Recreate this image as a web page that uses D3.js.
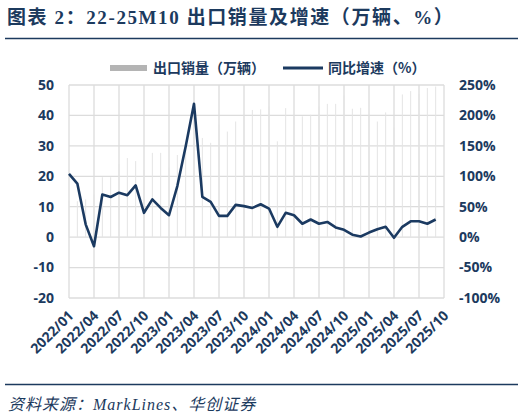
<!DOCTYPE html>
<html>
<head>
<meta charset="utf-8">
<script src="https://cdn.jsdelivr.net/npm/d3@7"></script>
<style>
body { margin: 0; background: #fff; }
svg { display: block; }
text { fill: #1c3a5e; }
</style>
</head>
<body>
<svg id="chart"></svg>
<script>
var months = ["2022/01","2022/02","2022/03","2022/04","2022/05","2022/06","2022/07","2022/08","2022/09","2022/10","2022/11","2022/12",
    "2023/01","2023/02","2023/03","2023/04","2023/05","2023/06","2023/07","2023/08","2023/09","2023/10","2023/11","2023/12",
    "2024/01","2024/02","2024/03","2024/04","2024/05","2024/06","2024/07","2024/08","2024/09","2024/10","2024/11","2024/12",
    "2025/01","2025/02","2025/03","2025/04","2025/05","2025/06","2025/07","2025/08","2025/09","2025/10"];
// export volume, 万辆
var exportVol = [12, 11.8, 12.4, 14, 19.7, 19.7, 24, 26, 25, 22, 27.7, 27.7,
    23, 27, 30, 33, 32.6, 31, 37, 34.7, 38, 40, 41.8, 42,
    43, 31.5, 42.4, 40, 39.7, 40.2, 43, 43.8, 43.8, 46.5, 42.2, 42.5,
    40, 38, 41, 36, 46.9, 48, 47, 49, 49.5];
// yoy growth, %
var yoyGrowth = [104, 88, 21, -15, 70, 66, 73, 69, 85, 40, 62, 48,
    36, 84, 149, 219, 66, 58, 35, 35, 53, 51, 48, 54,
    47, 17, 40, 36, 22, 29, 22, 25, 16, 12, 4, 1,
    7.5, 13, 17, -1, 17, 26, 26, 22, 29];
var leftTicks = [-20, -10, 0, 10, 20, 30, 40, 50];
var rightTicks = [-100, -50, 0, 50, 100, 150, 200, 250];

var W = 524, H = 418;
var plot = {left: 69, right: 444, top: 85, bottom: 298};
var navy = "#1c3a5e", grid = "#dcdcdc";

var svg = d3.select("#chart").attr("width", W).attr("height", H);

var xScale = d3.scalePoint().domain(months).range([plot.left, plot.right]);
var yLeft = d3.scaleLinear().domain([-20, 50]).range([plot.bottom, plot.top]);
var yRight = d3.scaleLinear().domain([-100, 250]).range([plot.bottom, plot.top]);

// title + rules
svg.append("text")
    .attr("x", 7).attr("y", 24)
    .style("font-family", "'Liberation Serif', 'Noto Sans CJK SC', serif")
    .style("font-weight", "bold").style("font-size", "19px").style("letter-spacing", "1.6px")
    .text("图表 2：22-25M10 出口销量及增速（万辆、%）");
svg.append("line").attr("x1", 5).attr("x2", 518).attr("y1", 38.5).attr("y2", 38.5)
    .attr("stroke", navy).attr("stroke-width", 1.5);
svg.append("line").attr("x1", 5).attr("x2", 518).attr("y1", 384.5).attr("y2", 384.5)
    .attr("stroke", navy).attr("stroke-width", 1.5);
svg.append("text")
    .attr("x", 8).attr("y", 410)
    .style("font-family", "'Liberation Serif', 'Noto Sans CJK SC', serif")
    .style("font-style", "italic").style("font-size", "16px").style("letter-spacing", "1px")
    .text("资料来源：MarkLines、华创证券");

// gridlines
var tickMonths = months.filter(function (d, i) { return i % 3 == 0; });
svg.append("g").selectAll("line").data(leftTicks).enter().append("line")
    .attr("x1", plot.left).attr("x2", plot.right)
    .attr("y1", function (d) { return yLeft(d); })
    .attr("y2", function (d) { return yLeft(d); })
    .attr("stroke", grid).attr("stroke-width", 1.3);
svg.append("g").selectAll("line").data(tickMonths).enter().append("line")
    .attr("x1", function (d) { return xScale(d); })
    .attr("x2", function (d) { return xScale(d); })
    .attr("y1", plot.top).attr("y2", plot.bottom)
    .attr("stroke", grid).attr("stroke-width", 1.3);

// bars (very thin)
svg.append("g").selectAll("rect").data(exportVol).enter().append("rect")
    .attr("x", function (d, i) { return xScale(months[i]) - 0.5; })
    .attr("width", 1)
    .attr("y", function (d) { return yLeft(d); })
    .attr("height", function (d) { return yLeft(0) - yLeft(d); })
    .attr("fill", "#e4e4e4");

// yoy line
var line = d3.line()
    .x(function (d, i) { return xScale(months[i]); })
    .y(function (d) { return yRight(d); });
svg.append("path")
    .datum(yoyGrowth)
    .attr("d", line)
    .attr("fill", "none")
    .attr("stroke", "#1b3a61")
    .attr("stroke-width", 2.6)
    .attr("stroke-linejoin", "round");

// axes labels
var axisFont = "'Open Sans', 'Noto Sans', sans-serif";
svg.append("g").selectAll("text").data(leftTicks).enter().append("text")
    .attr("x", 54).attr("y", function (d) { return yLeft(d); })
    .attr("dy", "0.35em").attr("text-anchor", "end")
    .style("font-family", axisFont).style("font-weight", "bold").style("font-size", "14px")
    .text(function (d) { return d; });
svg.append("g").selectAll("text").data(rightTicks).enter().append("text")
    .attr("x", 459).attr("y", function (d) { return yRight(d); })
    .attr("dy", "0.35em").attr("text-anchor", "start")
    .style("font-family", axisFont).style("font-weight", "bold").style("font-size", "14px")
    .text(function (d) { return d + "%"; });
svg.append("g").selectAll("text").data(tickMonths).enter().append("text")
    .attr("transform", function (d) { return "translate(" + (xScale(d) + 2) + "," + (plot.bottom + 15) + ") rotate(-45)"; })
    .attr("text-anchor", "end").attr("dy", "0.35em")
    .style("font-family", axisFont).style("font-weight", "bold").style("font-size", "14px")
    .text(function (d) { return d; });

// legend
var lg = svg.append("g").style("font-family", "'Noto Sans CJK SC', sans-serif")
    .style("font-weight", "bold").style("font-size", "14px");
lg.append("rect").attr("x", 110).attr("y", 65).attr("width", 37).attr("height", 6).attr("fill", "#b4b4b4");
lg.append("text").attr("x", 153).attr("y", 68).attr("dy", "0.35em").text("出口销量（万辆）");
lg.append("line").attr("x1", 283).attr("x2", 323).attr("y1", 68).attr("y2", 68)
    .attr("stroke", "#1b3a61").attr("stroke-width", 3);
lg.append("text").attr("x", 328).attr("y", 68).attr("dy", "0.35em").text("同比增速（%）");
</script>
</body>
</html>
